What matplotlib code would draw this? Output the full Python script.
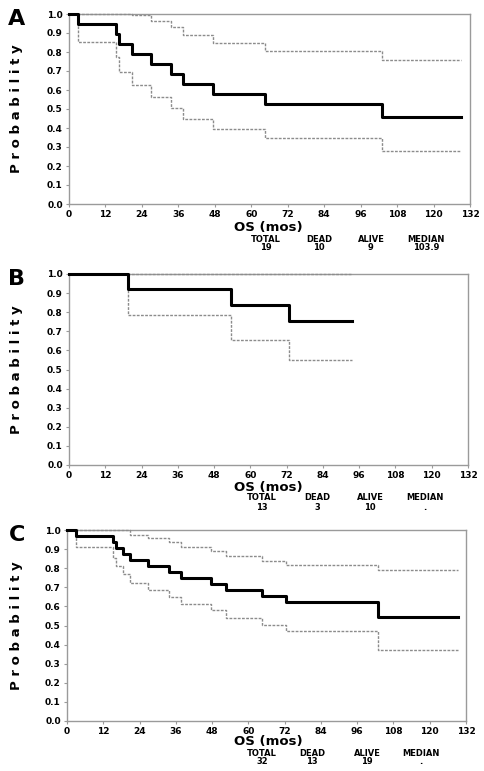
import numpy as np
import matplotlib
matplotlib.use("Agg")
from matplotlib import pyplot as plt

W, H = 484, 771

# Panel A: event times (months) and step values
a_times = [3.1, 15.4, 16.4, 20.9, 26.9, 33.5, 37.6, 47.5, 64.5, 103.1]
a_surv = [0.947, 0.895, 0.842, 0.789, 0.737, 0.684, 0.632, 0.579, 0.526, 0.46]
a_upper = [1.0, 1.0, 1.0, 0.997, 0.963, 0.93, 0.89, 0.85, 0.806, 0.76]
a_lower = [0.853, 0.772, 0.695, 0.626, 0.561, 0.504, 0.447, 0.395, 0.349, 0.279]
a_end = 129.0
a_stats = ["19", "10", "9", "103.9"]

# Panel B
b_times = [19.6, 53.5, 72.9]
b_surv = [0.923, 0.839, 0.755]
b_upper = [1.0, 1.0, 1.0]
b_lower = [0.787, 0.656, 0.549]
b_end = 93.6
b_stats = ["13", "3", "10", "."]

# Panel C
c_times = [3.0, 15.1, 16.3, 18.5, 20.7, 26.8, 33.7, 37.8, 47.5, 52.7, 64.5, 72.4, 103.0]
c_surv = [0.969, 0.938, 0.906, 0.875, 0.844, 0.813, 0.781, 0.75, 0.719, 0.688, 0.656, 0.625, 0.545]
c_upper = [1.0, 1.0, 1.0, 1.0, 0.976, 0.96, 0.937, 0.913, 0.888, 0.864, 0.839, 0.815, 0.79]
c_lower = [0.91, 0.855, 0.81, 0.77, 0.725, 0.685, 0.65, 0.615, 0.58, 0.54, 0.505, 0.47, 0.37]
c_end = 129.3
c_stats = ["32", "13", "19", "."]

stat_headers = ["TOTAL", "DEAD", "ALIVE", "MEDIAN"]
x_ticks = list(range(0, 133, 12))
y_ticks = [i / 10 for i in range(11)]

FONT = "DejaVu Sans"
GRAY = "#9a9a9a"


def _step_xy(times, values, end):
    xs = [0.0] + list(times) + [end]
    ys = [1.0] + list(values) + [values[-1]]
    return xs, ys


def px_to_fig(x, y):
    return x / W, 1 - y / H


def draw_panel(fig, box, letter, times, surv, upper, lower, end, stats, label_pos):
    left, top, right, bottom = box
    axis = fig.add_axes(
        [left / W, 1 - bottom / H, (right - left) / W, (bottom - top) / H]
    )

    for values, color, style, width in [
        (upper, "#8c8c8c", (0, (2, 1)), 1.0),
        (lower, "#8c8c8c", (0, (2, 1)), 1.0),
        (surv, "black", "-", 2.2),
    ]:
        xs, ys = _step_xy(times, values, end)
        axis.step(xs, ys, where="post", color=color, linestyle=style,
                  linewidth=width, clip_on=False, zorder=3)

    axis.set_xlim(0, 132)
    axis.set_ylim(0, 1)
    axis.set_xticks(x_ticks)
    axis.set_yticks(y_ticks)
    axis.set_xticklabels([str(t) for t in x_ticks])
    axis.set_yticklabels([f"{t:.1f}" for t in y_ticks])
    for label in axis.get_xticklabels() + axis.get_yticklabels():
        label.set_fontweight("bold")
        label.set_fontsize(6.5)
        label.set_family(FONT)
    axis.tick_params(length=2, width=0.8, color=GRAY, pad=2.5)
    for spine in axis.spines.values():
        spine.set_color(GRAY)
        spine.set_linewidth(1.0)

    os_y, head_y, val_y, stat_xs = label_pos
    fig.text(*px_to_fig(268, os_y), "OS (mos)", ha="center", va="center",
             fontsize=9.5, fontweight="bold", family=FONT)
    for x, head, val in zip(stat_xs, stat_headers, stats):
        fig.text(*px_to_fig(x, head_y), head, ha="center", va="center",
                 fontsize=6, fontweight="bold", family=FONT)
        fig.text(*px_to_fig(x, val_y), val, ha="center", va="center",
                 fontsize=6, fontweight="bold", family=FONT)

    fig.text(*px_to_fig(17, (top + bottom) / 2), "P r o b a b i l i t y",
             rotation=90, ha="center", va="center", fontsize=9.5,
             fontweight="bold", family=FONT)
    fig.text(*px_to_fig(17, top + 5), letter, ha="center", va="center",
             fontsize=16, fontweight="bold", family=FONT)
    return axis


fig = plt.figure(figsize=(W / 100, H / 100), dpi=100)

draw_panel(fig, (69, 14, 470, 204), "A", a_times, a_surv, a_upper, a_lower,
           a_end, a_stats, (228, 239, 248, [266, 319, 371, 426]))
draw_panel(fig, (69, 274, 468, 465), "B", b_times, b_surv, b_upper, b_lower,
           b_end, b_stats, (487, 498, 507, [262, 317, 370, 425]))
draw_panel(fig, (67, 530, 466, 721), "C", c_times, c_surv, c_upper, c_lower,
           c_end, c_stats, (742, 753, 762, [262, 312, 367, 421]))

fig.savefig("out.png", dpi=100)
